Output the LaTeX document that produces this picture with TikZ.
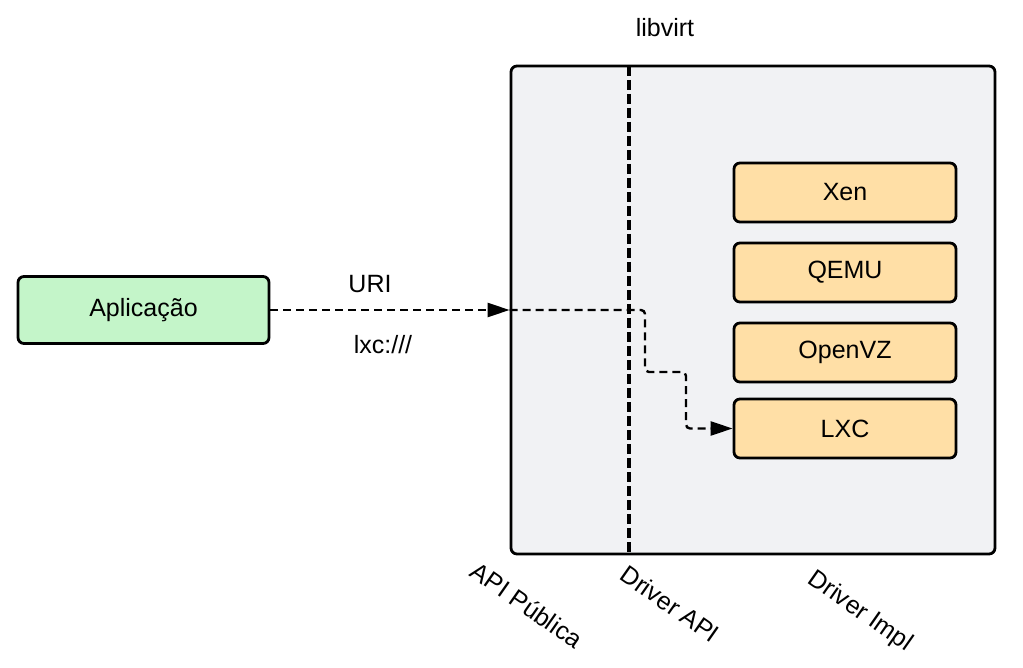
\documentclass[tikz,border=0pt]{standalone}
\usepackage{fontspec}
\setmainfont{Liberation Sans}
\usepackage{tikz}
\usetikzlibrary{arrows.meta,positioning,calc}
\definecolor{appgreen}{HTML}{C4F5C9}
\definecolor{drvorange}{HTML}{FFDFA6}
\definecolor{libgrey}{HTML}{F1F2F4}
\tikzset{
  box/.style={draw=black,line width=1.4pt,rounded corners=3pt,inner sep=0pt,font=\fontsize{12.5}{15}\selectfont},
  drvbox/.style={box,fill=drvorange,minimum width=111pt,minimum height=29.5pt},
  flow/.style={line width=1.2pt,dash pattern=on 4pt off 2.5pt,-{Triangle[length=11pt,width=7pt]}},
  lbl/.style={font=\fontsize{12.5}{15}\selectfont,inner sep=0pt},
  layer/.style={lbl,rotate=-35}
}
\begin{document}
\begin{tikzpicture}[x=0.5pt,y=-0.5pt]
\useasboundingbox (0,0) rectangle (1023,668);
\node[box,fill=libgrey,minimum width=242pt,minimum height=244pt] (libvirt) at (753,310) {};
\node[lbl] (libname) at (665,28) {libvirt};
\node[box,fill=appgreen,minimum width=125.5pt,minimum height=33.5pt] (app) at (143.5,310) {Aplicação};
\node[drvbox] (xen) at (845,192.5) {Xen};
\node[drvbox] (qemu) at (845,272.5) {QEMU};
\node[drvbox] (openvz) at (845,352.5) {OpenVZ};
\node[drvbox] (lxc) at (845,428.5) {LXC};
% separacao entre API publica e driver
\draw[line width=1.7pt,dash pattern=on 5pt off 2pt] (629,66) -- (629,554);
\draw[flow] (app.east) -- node[lbl,above=8pt,xshift=-10pt]{URI} node[lbl,below=12pt,xshift=-3.5pt]{lxc:///} (libvirt.west);
\draw[flow,rounded corners=2pt] (libvirt.west) -- (645,310) -- (645,372) -- (686,372) |- (lxc.west);
\node[layer] (pub) at (527,605) {API Pública};
\node[layer] (drvapi) at (670,604) {Driver API};
\node[layer] (drvimpl) at (860,612) {Driver Impl};
\end{tikzpicture}
\end{document}
